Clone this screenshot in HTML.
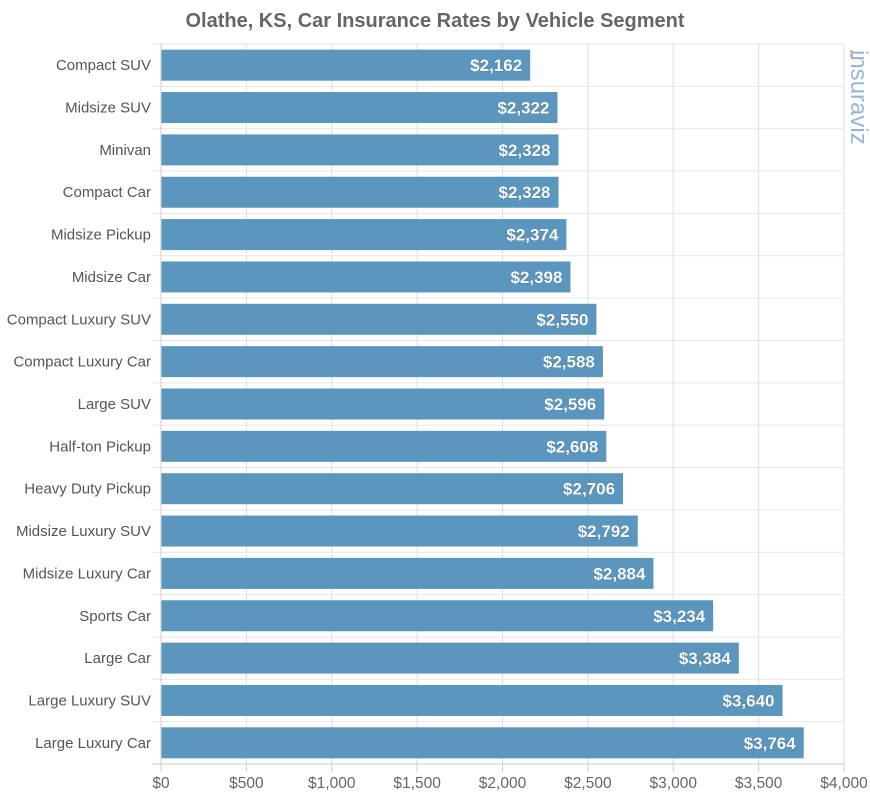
<!DOCTYPE html>
<html><head><meta charset="utf-8"><style>
body{margin:0;background:#fff;font-family:"Liberation Sans",sans-serif}
</style></head><body>
<svg id="c" width="870" height="800" xmlns="http://www.w3.org/2000/svg">
<text x="435" y="27" text-anchor="middle" font-size="20" font-weight="bold" fill="#666">Olathe, KS, Car Insurance Rates by Vehicle Segment</text>
<g transform="translate(849,50) rotate(90)">
<rect x="0" y="-4" width="3" height="3" fill="#f4b860"/><rect x="4" y="-4" width="3" height="3" fill="#e89ab0"/>
<text x="0" y="-2" font-size="24" fill="#9ab6d6" font-family="Liberation Sans,sans-serif">insuraviz</text>
</g>
<g id="grid"></g><g id="bars"></g><g id="axes"></g>
</svg>
<script>
const categories=["Compact SUV","Midsize SUV","Minivan","Compact Car","Midsize Pickup","Midsize Car","Compact Luxury SUV","Compact Luxury Car","Large SUV","Half-ton Pickup","Heavy Duty Pickup","Midsize Luxury SUV","Midsize Luxury Car","Sports Car","Large Car","Large Luxury SUV","Large Luxury Car"];
const values=[2162,2322,2328,2328,2374,2398,2550,2588,2596,2608,2706,2792,2884,3234,3384,3640,3764];
const ticks=[0,500,1000,1500,2000,2500,3000,3500,4000];
const tickLabels=["$0","$500","$1,000","$1,500","$2,000","$2,500","$3,000","$3,500","$4,000"];
const L=161,R=844,T=44,B=764,NS="http://www.w3.org/2000/svg";
const x=v=>L+v/4000*(R-L);
const band=(B-T)/categories.length;
const y=i=>T+i*band;
function mk(p,tag,a){const e=document.createElementNS(NS,tag);for(const k in a)e.setAttribute(k,a[k]);p.appendChild(e);return e;}
const grid=document.getElementById('grid'),bars=document.getElementById('bars'),axes=document.getElementById('axes');
ticks.forEach((t,i)=>{
 if(i>0){const g=mk(grid,'line',{x1:x(t),x2:x(t),y1:T,y2:B,stroke:'#ddd'});
 
 }
 const tl=mk(axes,'line',{x1:x(t),x2:x(t),y1:B,y2:B+8,stroke:'#ccc'});
 
 
 const tx=mk(axes,'text',{x:x(t),y:B+24,'text-anchor':'middle','font-size':15.5,fill:'#666'});
 tx.textContent=tickLabels[i];
 
 
});
for(let i=0;i<=categories.length;i++){
 const g=mk(grid,'line',{x1:L-9,x2:R,y1:y(i),y2:y(i),stroke:i==categories.length?'#ccc':'#e6e6e6'});
 
 
}
mk(axes,'line',{x1:L,x2:L,y1:T,y2:B,stroke:'#ccc'});
categories.forEach((c,i)=>{
 const bh=31,cy=y(i)+band/2;
 const r=mk(bars,'rect',{x:L,y:cy-bh/2,width:x(values[i])-L,height:bh,fill:'#5b96bf'});
 
 
 const v=mk(bars,'text',{x:x(values[i])-8,y:cy+6,'text-anchor':'end','font-size':17,'font-weight':'bold',fill:'#fff',stroke:'#3c6a8a','stroke-width':0.6,'paint-order':'stroke'});
 v.textContent='$'+values[i].toLocaleString('en-US');
 
 
 const l=mk(axes,'text',{x:L-10,y:cy+5,'text-anchor':'end','font-size':15,fill:'#555'});
 l.textContent=c;
 
 
});
</script>
</body></html>
